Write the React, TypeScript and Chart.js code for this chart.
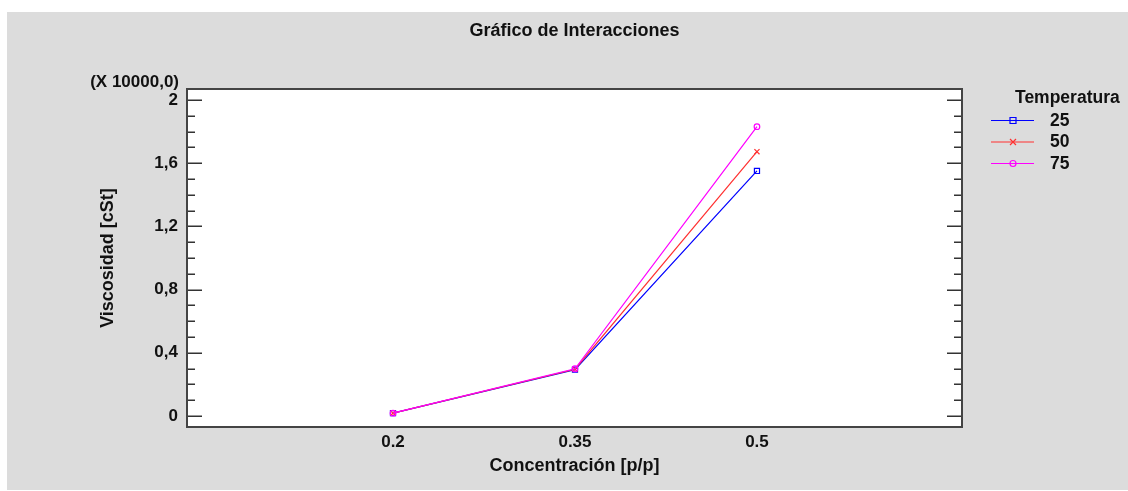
import React, { useEffect, useRef } from "react";
import { Chart, registerables } from "chart.js";

Chart.register(...registerables);

// ---- data ----
const chartTitle = "Gráfico de Interacciones";
const xAxisTitle = "Concentración [p/p]";
const yAxisTitle = "Viscosidad [cSt]";
const yScaleNote = "(X 10000,0)";
const legendTitle = "Temperatura";

const concentrations = [0.2, 0.35, 0.5];
const temperatures = ["25", "50", "75"];
// viscosity values in units of 10000 cSt
const visc25 = [0.018, 0.293, 1.551];
const visc50 = [0.018, 0.296, 1.673];
const visc75 = [0.018, 0.299, 1.831];

const xTickValues = [0.2, 0.35, 0.5];
const xTickLabels = ["0.2", "0.35", "0.5"];
const yTickValues = [0, 0.4, 0.8, 1.2, 1.6, 2];
const yTickLabels = ["0", "0,4", "0,8", "1,2", "1,6", "2"];

// ---- styles ----
const FONT = '"Liberation Sans", Arial, Helvetica, sans-serif';
const TEXT = "#111111";
const seriesStyles = [
  { color: "#0000ff", point: "rect", order: 2 },
  { color: "#ff3030", point: "crossRot", order: 1 },
  { color: "#ff00ff", point: "circle", order: 0 },
];

function drawMarker(ctx: CanvasRenderingContext2D, style: string, x: number, y: number, color: string) {
  ctx.save();
  ctx.strokeStyle = color;
  ctx.lineWidth = 1.2;
  ctx.beginPath();
  if (style === "rect") {
    ctx.rect(x - 3, y - 3, 6, 6);
  } else if (style === "crossRot") {
    ctx.moveTo(x - 3, y - 3);
    ctx.lineTo(x + 3, y + 3);
    ctx.moveTo(x + 3, y - 3);
    ctx.lineTo(x - 3, y + 3);
  } else {
    ctx.arc(x, y, 3, 0, Math.PI * 2);
  }
  ctx.stroke();
  ctx.restore();
}

const framePlugin = {
  id: "framePlugin",
  beforeDatasetsDraw(chart: any) {
    const { ctx, chartArea } = chart;
    const { left, right, top, bottom } = chartArea;
    ctx.save();
    ctx.fillStyle = "#ffffff";
    ctx.fillRect(left, top, right - left, bottom - top);
    const ys = chart.scales.y;
    ctx.strokeStyle = "#333333";
    ctx.lineWidth = 1.5;
    for (let i = 0; i <= 20; i++) {
      const v = i / 10;
      const py = Math.round(ys.getPixelForValue(v)) + 0.25;
      const len = i % 4 === 0 ? 15 : 8;
      ctx.beginPath();
      ctx.moveTo(left, py);
      ctx.lineTo(left + len, py);
      ctx.moveTo(right - len, py);
      ctx.lineTo(right, py);
      ctx.stroke();
    }
    ctx.strokeStyle = "#444444";
    ctx.lineWidth = 2;
    ctx.strokeRect(left, top, right - left, bottom - top);
    ctx.restore();
  },
  afterDraw(chart: any) {
    const { ctx, chartArea } = chart;
    ctx.save();
    ctx.fillStyle = TEXT;
    ctx.textBaseline = "middle";
    // chart title centred over the plot area
    ctx.font = `bold 18px ${FONT}`;
    ctx.textAlign = "center";
    ctx.fillText(chartTitle, (chartArea.left + chartArea.right) / 2, 19);
    ctx.font = `bold 17px ${FONT}`;
    ctx.textAlign = "right";
    ctx.fillText(yScaleNote, chartArea.left - 8, chartArea.top - 7);
    // legend
    const lx = chartArea.right + 29;
    ctx.textAlign = "left";
    ctx.font = `bold 17.5px ${FONT}`;
    ctx.fillText(legendTitle, lx + 24, chartArea.top + 9);
    chart.data.datasets.forEach((ds: any, i: number) => {
      const y = chartArea.top + 31 + i * 21.5;
      ctx.strokeStyle = ds.borderColor;
      ctx.lineWidth = 1.2;
      ctx.beginPath();
      ctx.moveTo(lx, y + 0.5);
      ctx.lineTo(lx + 43, y + 0.5);
      ctx.stroke();
      drawMarker(ctx, ds.pointStyle, lx + 22, y + 0.5, ds.borderColor);
      ctx.fillStyle = TEXT;
      ctx.fillText(ds.label, lx + 59, y + 1);
    });
    ctx.restore();
  },
};

export default function App() {
  const canvasRef = useRef<HTMLCanvasElement | null>(null);

  useEffect(() => {
    const canvas = canvasRef.current;
    if (!canvas) return;
    Chart.defaults.font.family = FONT;
    const seriesValues = [visc25, visc50, visc75];
    const datasets = temperatures.map((t, i) => ({
      label: t,
      data: concentrations.map((c, j) => ({ x: c, y: seriesValues[i][j] })),
      order: seriesStyles[i].order,
      borderColor: seriesStyles[i].color,
      backgroundColor: "rgba(0,0,0,0)",
      borderWidth: 1.2,
      pointStyle: seriesStyles[i].point,
      pointRadius: i === 2 ? 2.8 : 3.6,
      pointBorderWidth: 1.2,
      pointBorderColor: seriesStyles[i].color,
      pointBackgroundColor: "rgba(0,0,0,0)",
      tension: 0,
    }));

    const chart = new Chart(canvas, {
      type: "line",
      data: { datasets },
      plugins: [framePlugin],
      options: {
        responsive: false,
        animation: false,
        devicePixelRatio: 1,
        layout: { padding: { left: 0, right: 166, top: 77, bottom: 0 } },
        plugins: {
          legend: { display: false },
          tooltip: { enabled: false },
          title: { display: false },
        },
        scales: {
          x: {
            type: "linear",
            min: 0.0302,
            max: 0.669,
            grid: { display: false, drawTicks: false },
            border: { display: false },
            afterBuildTicks: (s: any) => {
              s.ticks = xTickValues.map((v) => ({ value: v }));
            },
            afterFit: (s: any) => {
              s.height = 63;
            },
            ticks: {
              autoSkip: false,
              maxRotation: 0,
              padding: 5,
              color: TEXT,
              font: { size: 17, weight: "bold", family: FONT },
              callback: (_v: any, i: number) => xTickLabels[i],
            },
            title: {
              display: true,
              text: xAxisTitle,
              color: TEXT,
              font: { size: 18, weight: "bold", family: FONT },
              padding: { top: 0, bottom: 13.2 },
            },
          },
          y: {
            type: "linear",
            min: -0.0696,
            max: 2.0696,
            grid: { display: false, drawTicks: false },
            border: { display: false },
            afterBuildTicks: (s: any) => {
              s.ticks = yTickValues.map((v) => ({ value: v }));
            },
            afterFit: (s: any) => {
              s.width = 180;
            },
            ticks: {
              autoSkip: false,
              padding: 9,
              color: TEXT,
              font: { size: 17, weight: "bold", family: FONT },
              callback: (_v: any, i: number) => yTickLabels[i],
            },
            title: {
              display: true,
              text: yAxisTitle,
              color: TEXT,
              font: { size: 18, weight: "bold", family: FONT },
              padding: { top: 90.2, bottom: 0 },
            },
          },
        },
      },
    } as any);

    return () => chart.destroy();
  }, []);

  return (
    <div style={{ position: "absolute", left: 0, top: 0, width: 1128, height: 491, background: "#ffffff", overflow: "hidden" }}>
      <div style={{ position: "absolute", left: 7, top: 12, width: 1121, height: 478, background: "#dcdcdc" }}>
        <canvas ref={canvasRef} width={1121} height={478} style={{ display: "block", width: 1121, height: 478 }} />
      </div>
    </div>
  );
}
